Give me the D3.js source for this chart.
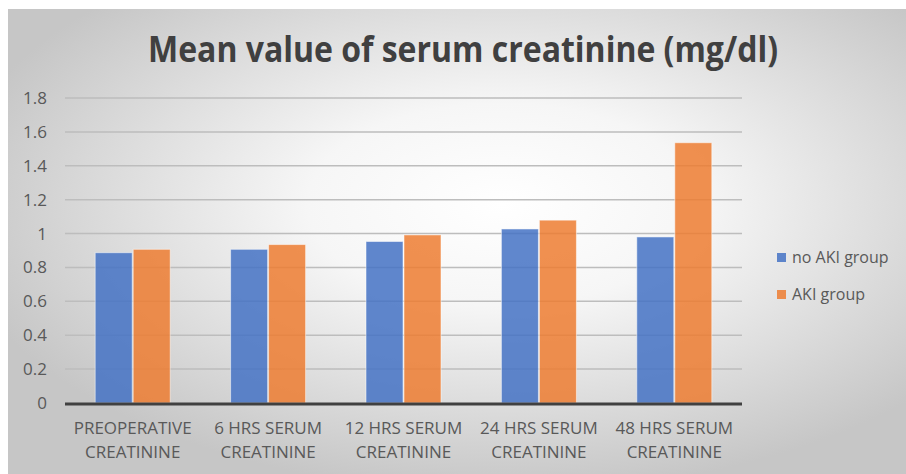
<!DOCTYPE html>
<html>
<head>
<meta charset="utf-8">
<script src="https://cdn.jsdelivr.net/npm/d3@7"></script>
<style>
  html, body { margin: 0; padding: 0; background: #fff; }
  svg { display: block; }
</style>
</head>
<body>
<svg id="chart"></svg>
<script>
// Chart data
const categories = [
  ["PREOPERATIVE", "CREATININE"],
  ["6 HRS SERUM", "CREATININE"],
  ["12 HRS SERUM", "CREATININE"],
  ["24 HRS SERUM", "CREATININE"],
  ["48 HRS SERUM", "CREATININE"]
];
const seriesNames = ["no AKI group", "AKI group"];
const noAkiValues = [0.887, 0.907, 0.953, 1.027, 0.98];
const akiValues = [0.907, 0.935, 0.992, 1.079, 1.536];
const yTicks = [0, 0.2, 0.4, 0.6, 0.8, 1, 1.2, 1.4, 1.6, 1.8];
const colors = ["#4472C4", "#ED7D31"];

const width = 906;
const height = 474;
const margin = { top: 98, right: 164, bottom: 71, left: 65 };
const font = "Open Sans, sans-serif";

const svg = d3.select("#chart")
  .attr("width", width)
  .attr("height", height);

// Background gradient, light in the middle and grey at the edges
const defs = svg.append("defs");
const grad = defs.append("radialGradient")
  .attr("id", "bg")
  .attr("cx", "55%").attr("cy", "42%").attr("r", "62%");
grad.append("stop").attr("offset", "0%").attr("stop-color", "#ffffff");
grad.append("stop").attr("offset", "35%").attr("stop-color", "#f6f6f6");
grad.append("stop").attr("offset", "100%").attr("stop-color", "#c6c6c6");

svg.append("rect")
  .attr("x", 8).attr("y", 9)
  .attr("width", width - 8).attr("height", height - 9)
  .attr("fill", "url(#bg)");

// Title
svg.append("text")
  .attr("x", 463)
  .attr("y", 62)
  .attr("text-anchor", "middle")
  .attr("font-family", font)
  .attr("font-weight", "bold")
  .attr("font-size", 35)
  .attr("fill", "#404040")
  .attr("textLength", 630)
  .attr("lengthAdjust", "spacingAndGlyphs")
  .text("Mean value of serum creatinine (mg/dl)");

// Scales
const x0 = d3.scaleBand()
  .domain(d3.range(categories.length))
  .range([margin.left, width - margin.right]);

const x1 = d3.scaleBand()
  .domain([0, 1])
  .range([0, 76])
  .padding(0);

const y = d3.scaleLinear()
  .domain([0, 1.8])
  .range([height - margin.bottom, margin.top]);

// Gridlines
svg.append("g")
  .selectAll("line")
  .data(yTicks.slice(1))
  .enter()
  .append("line")
  .attr("x1", margin.left)
  .attr("x2", width - margin.right)
  .attr("y1", d => y(d))
  .attr("y2", d => y(d))
  .attr("stroke", "#bdbdbd")
  .attr("stroke-width", 1.5);

// Y axis labels
const yAxis = d3.axisLeft(y)
  .tickValues(yTicks)
  .tickSize(0)
  .tickPadding(0)
  .tickFormat(d3.format("~g"));

svg.append("g")
  .attr("transform", `translate(47, 0)`)
  .call(yAxis)
  .call(g => g.select(".domain").remove())
  .call(g => g.selectAll("text")
    .attr("font-family", font)
    .attr("font-size", 17)
    .attr("fill", "#595959"));

// Bars
const groups = svg.append("g")
  .selectAll("g")
  .data(categories.map((c, i) => [noAkiValues[i], akiValues[i]]))
  .enter()
  .append("g")
  .attr("transform", (d, i) => `translate(${x0(i) + x0.bandwidth() / 2 - 38}, 0)`);

groups.selectAll("rect")
  .data(d => d)
  .enter()
  .append("rect")
  .attr("x", (d, j) => x1(j) + 0.5)
  .attr("width", x1.bandwidth() - 1)
  .attr("y", d => y(d))
  .attr("height", d => y(0) - y(d))
  .attr("fill", (d, j) => colors[j])
  .attr("fill-opacity", 0.85)
  .attr("stroke", "#ffffff")
  .attr("stroke-opacity", 0.5)
  .attr("stroke-width", 1);

// X axis line
svg.append("line")
  .attr("x1", margin.left)
  .attr("x2", width - margin.right)
  .attr("y1", y(0) + 1)
  .attr("y2", y(0) + 1)
  .attr("stroke", "#404040")
  .attr("stroke-width", 3);

// Category labels
const xLabels = svg.append("g")
  .selectAll("text")
  .data(categories)
  .enter()
  .append("text")
  .attr("x", (d, i) => x0(i) + x0.bandwidth() / 2)
  .attr("y", 434)
  .attr("text-anchor", "middle")
  .attr("font-family", font)
  .attr("font-size", 17)
  .attr("fill", "#595959");

xLabels.selectAll("tspan")
  .data(d => d)
  .enter()
  .append("tspan")
  .attr("x", function () { return d3.select(this.parentNode).attr("x"); })
  .attr("dy", (d, k) => k === 0 ? 0 : 23.5)
  .text(d => d);

// Legend
const legend = svg.append("g")
  .selectAll("g")
  .data(seriesNames)
  .enter()
  .append("g")
  .attr("transform", (d, i) => `translate(777, ${253 + i * 37})`);

legend.append("rect")
  .attr("width", 9)
  .attr("height", 9)
  .attr("fill", (d, i) => colors[i])
  .attr("fill-opacity", 0.85);

legend.append("text")
  .attr("x", 15)
  .attr("y", 10)
  .attr("font-family", font)
  .attr("font-size", 16)
  .attr("fill", "#595959")
  .text(d => d);
</script>
</body>
</html>
